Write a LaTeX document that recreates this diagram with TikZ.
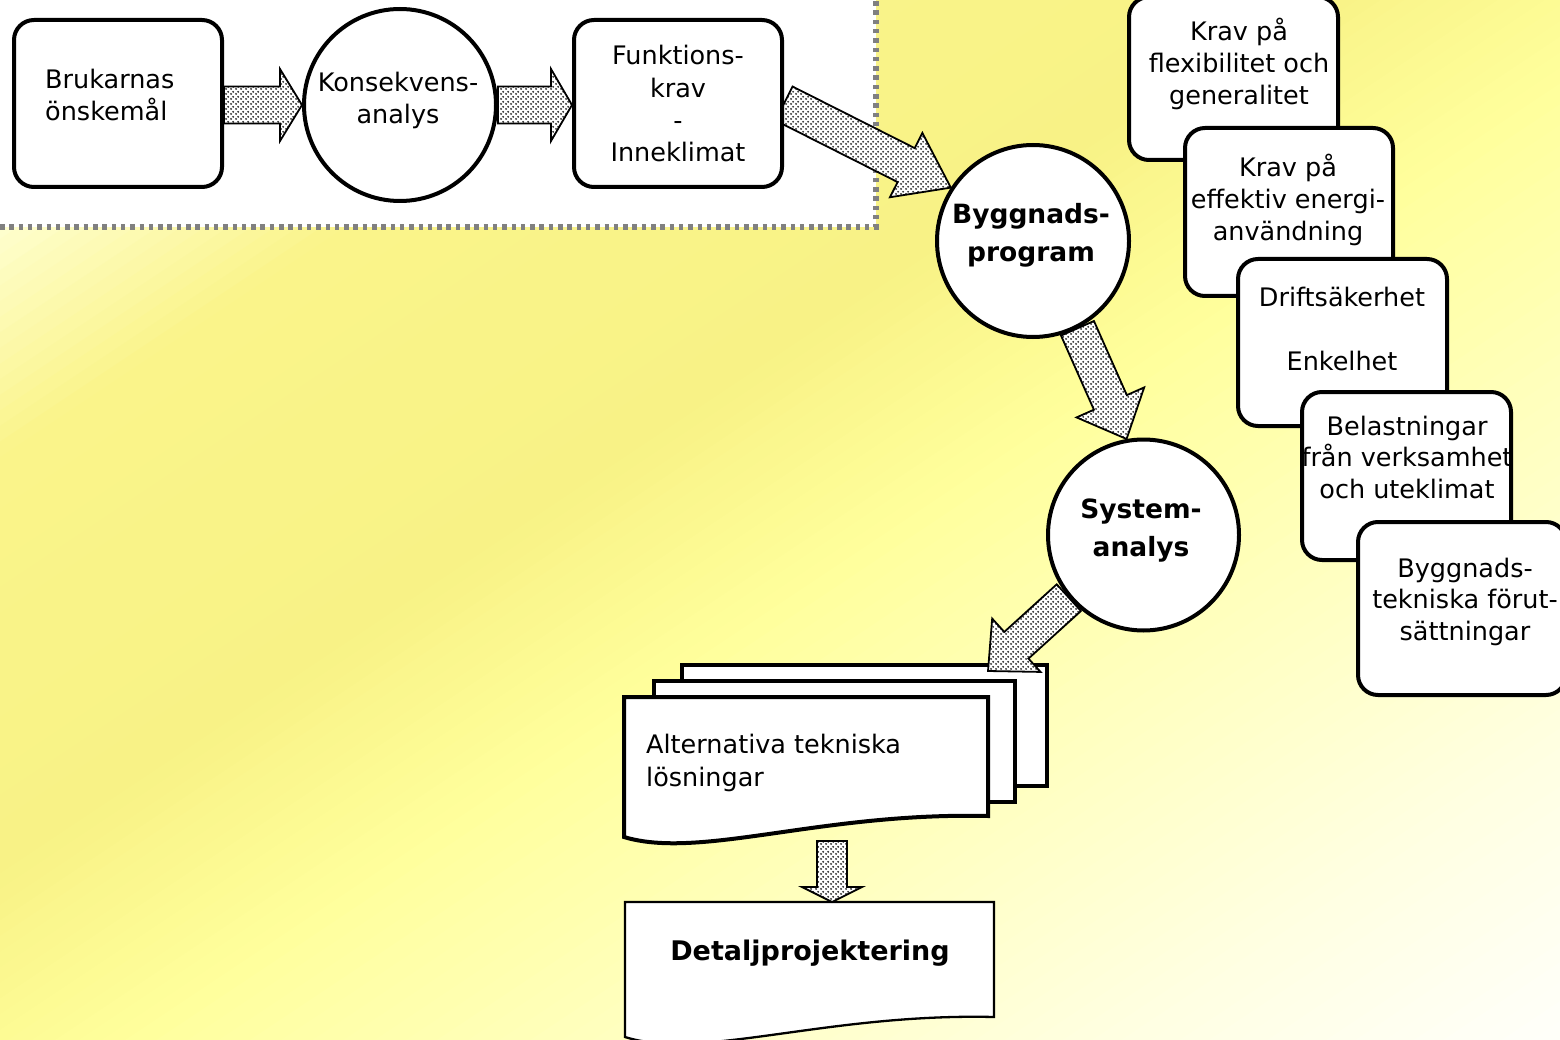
\documentclass[tikz,border=0pt]{standalone}
\usepackage{fontspec}
\setmainfont{DejaVu Sans}
\usetikzlibrary{calc,patterns.meta}

\definecolor{g0}{HTML}{FFFFF0}
\definecolor{g1}{HTML}{FFFFD4}
\definecolor{g2}{HTML}{FAF48A}
\definecolor{g3}{HTML}{F8F286}
\definecolor{g4}{HTML}{FFFF9C}
\definecolor{g5}{HTML}{FFFFC0}
\definecolor{g6}{HTML}{FFFFE0}
\definecolor{g7}{HTML}{FFFFFA}
\definecolor{dashgray}{HTML}{808080}
\definecolor{dotgray}{HTML}{303030}

\pgfdeclarelayer{back}
\pgfdeclarelayer{docs}
\pgfdeclarelayer{arrows}
\pgfsetlayers{back,docs,arrows,main}

\tikzdeclarepattern{
  name=dotfill, type=uncolored,
  bounding box={(0pt,0pt) and (5pt,5pt)},
  tile size={(5pt,5pt)},
  code={\fill (1.25pt,1.25pt) circle (1.2pt); \fill (3.75pt,3.75pt) circle (1.2pt);}
}

\newcommand\centab[1]{\begin{tabular}[t]{@{}c@{}}#1\end{tabular}}
\newcommand\lefttab[1]{\begin{tabular}[t]{@{}l@{}}#1\end{tabular}}

% block arrow: #1 from, #2 tip, #3 shaft half width, #4 head half width, #5 head length
\newcommand\blockarrow[5]{%
  \draw[barrow] let \p1=(#1), \p2=(#2),
    \n1={atan2(\y2-\y1,\x2-\x1)}, \n2={veclen(\x2-\x1,\y2-\y1)} in
    ($(\p1)+(\n1+90:#3)$) -- ($(\p1)+(\n1:\n2-#5)+(\n1+90:#3)$) --
    ($(\p1)+(\n1:\n2-#5)+(\n1+90:#4)$) -- (\p2) --
    ($(\p1)+(\n1:\n2-#5)+(\n1-90:#4)$) -- ($(\p1)+(\n1:\n2-#5)+(\n1-90:#3)$) --
    ($(\p1)+(\n1-90:#3)$) -- cycle;}

\begin{document}
\begin{tikzpicture}[x=1pt,y=-1pt,
  rbox/.style={draw, line width=4pt, rounded corners=20pt, fill=white, inner sep=0pt},
  rnd/.style={draw, circle, line width=4pt, fill=white, inner sep=0pt},
  txt/.style={inner sep=0pt, anchor=base, font=\fontsize{25.5}{31.7}\selectfont},
  btxt/.style={inner sep=0pt, anchor=base, font=\bfseries\fontsize{26.5}{38}\selectfont},
  barrow/.style={line width=1.8pt, line join=miter, preaction={fill=white}, pattern=dotfill, pattern color=dotgray},
  docline/.style={draw, fill=white, line join=miter}]

\useasboundingbox (0,0) rectangle (1560,1040);

% ---------- background ----------
\begin{pgfonlayer}{back}
\foreach \ca/\cb/\ka/\kb in {g0/g1/0/312, g1/g2/312/686, g2/g3/686/1310, g3/g4/1310/1685, g4/g5/1685/2184, g5/g6/2184/2652, g6/g7/2652/3120}{
  \foreach \j in {0,...,15}{
    \pgfmathsetmacro\kl{\ka+(\kb-\ka)*\j/16}
    \pgfmathsetmacro\kr{\ka+(\kb-\ka)*(\j+1)/16+1.5}
    \pgfmathtruncatemacro\pc{100-(\j+0.5)*100/16}
    \colorlet{stripe}{\ca!\pc!\cb}
    \fill[stripe] (\kl,0) -- (\kr,0) -- (\kr-1560,1040) -- (\kl-1560,1040) -- cycle;
  }
}
\fill[white] (0,0) rectangle (876,227);
\draw[dashgray, line width=6pt, dash pattern=on 4.5pt off 4.8pt] (0,227) -- (876,227) -- (876,0);
\end{pgfonlayer}

% ---------- documents ----------
\begin{pgfonlayer}{docs}
\draw[docline, line width=3.5pt] (682,665) rectangle (1047,786);
\draw[docline, line width=3.5pt] (654,681) rectangle (1015,802);
\draw[docline, line width=4pt] (624,697) -- (988,697) -- (988,816)
   .. controls (820,812) and (700,860) .. (624,837) -- cycle;
\draw[docline, line width=2.3pt] (625,902) -- (994,902) -- (994,1017)
   .. controls (826,1013) and (701,1061) .. (625,1037) -- cycle;
\end{pgfonlayer}

% ---------- top-left chain ----------
\node[rbox, minimum width=208pt, minimum height=167pt] (b1) at (118,103.5) {};
\node[rnd, minimum size=192pt] (c1) at (400,105) {};
\node[rbox, minimum width=208pt, minimum height=167pt] (b3) at (678,103.5) {};

% ---------- main circles ----------
\node[rnd, minimum size=192pt] (bp) at (1033,241) {};
\node[rnd, minimum size=191pt] (sa) at (1143.5,535) {};

% ---------- right stack ----------
\node[rbox, minimum width=209pt, minimum height=163pt] (r1) at (1233.5,78.5) {};
\node[rbox, minimum width=208pt, minimum height=168pt] (r2) at (1289,212) {};
\node[rbox, minimum width=209pt, minimum height=167pt] (r3) at (1342.5,342.5) {};
\node[rbox, minimum width=209pt, minimum height=168pt] (r4) at (1406.5,476) {};
\node[rbox, minimum width=208pt, minimum height=173pt] (r5) at (1462,608.5) {};

% ---------- texts ----------
\node[txt, anchor=base west] (b1t) at (45,89) {\lefttab{Brukarnas\\önskemål}};
\node[txt] (c1t) at (398,92) {\centab{Konsekvens-\\analys}};
\node[txt, font=\fontsize{25.5}{32.3}\selectfont] (b3t) at (678,65) {\centab{Funktions-\\krav\\-\\Inneklimat}};
\node[btxt] (bpt) at (1031,224) {\centab{Byggnads-\\program}};
\node[btxt] (sat) at (1141,518) {\centab{System-\\analys}};
\node[txt] (r1t) at (1239,41) {\centab{Krav på\\flexibilitet och\\generalitet}};
\node[txt] (r2t) at (1288,177) {\centab{Krav på\\effektiv energi-\\användning}};
\node[txt, font=\fontsize{25.5}{32}\selectfont] (r3t) at (1342,307) {\centab{Driftsäkerhet\\ \\Enkelhet}};
\node[txt] (r4t) at (1407,435) {\centab{Belastningar\\från verksamhet\\och uteklimat}};
\node[txt] (r5t) at (1465,577) {\centab{Byggnads-\\tekniska förut-\\sättningar}};
\node[txt, anchor=base west, font=\fontsize{25.5}{33.5}\selectfont] (d1t) at (646,753) {\lefttab{Alternativa tekniska\\lösningar}};
\node[btxt, font=\bfseries\fontsize{27}{38}\selectfont] (dtt) at (810,960) {Detaljprojektering};

% ---------- block arrows ----------
\coordinate (a5end) at (988,671);
\coordinate (a6s) at (832,841);
\coordinate (a6e) at (832,902);
\begin{pgfonlayer}{arrows}
\blockarrow{b1.east |- c1.west}{c1.west}{18.5pt}{36pt}{22pt}
\blockarrow{c1.east}{b3.west |- c1.east}{18.5pt}{36pt}{21pt}
\blockarrow{b3.east}{bp.147}{19pt}{36pt}{50pt}
\blockarrow{bp.-63}{sa.100}{18pt}{37pt}{40pt}
\blockarrow{sa.220}{a5end}{18pt}{36pt}{38pt}
\blockarrow{a6s}{a6e}{15pt}{30pt}{15pt}
\end{pgfonlayer}

\end{tikzpicture}
\end{document}
